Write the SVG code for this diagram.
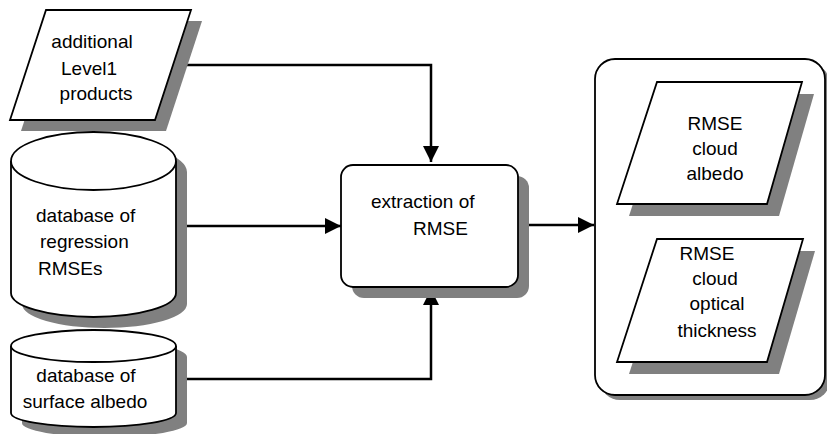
<svg xmlns="http://www.w3.org/2000/svg" width="827" height="434" viewBox="0 0 827 434">
<style>
.sh{fill:#808080;stroke:none}
.nd{fill:#fff;stroke:#000;stroke-width:1.8}
.ln{fill:none;stroke:#000;stroke-width:2.5}
text{font-family:"Liberation Sans",Arial,sans-serif;font-size:19px;fill:#000}
.m{text-anchor:middle}
</style>
<defs>
<marker id="ah" markerUnits="userSpaceOnUse" markerWidth="17" markerHeight="17" refX="16" refY="8" orient="auto">
<path d="M0,0 L16,8 L0,16 Z" fill="#000"/>
</marker>
</defs>
<rect width="827" height="434" fill="#fff"/>
<g id="connectors">
<path class="ln" d="M173,65 H431 V162" marker-end="url(#ah)"/>
<path class="ln" d="M176,226 H341" marker-end="url(#ah)"/>
<path class="ln" d="M176,379 H431 V289" marker-end="url(#ah)"/>
<path class="ln" d="M518,225 H594" marker-end="url(#ah)"/>
</g>
<g id="level1">
<polygon class="sh" points="57,21 202,21 166,131 21,131"/>
<polygon class="nd" points="46,10 191,10 155,120 10,120"/>
<text class="m" x="92" y="48">additional</text>
<text class="m" x="89" y="75">Level1</text>
<text class="m" x="96" y="100">products</text>
</g>
<g id="db-rmse">
<path class="sh" d="M22,172 V304 A82.5,24 0 0 0 187,304 V172 A82.5,29 0 0 0 22,172 Z"/>
<path class="nd" d="M11,161 V293 A82.5,24 0 0 0 176,293 V161 A82.5,29 0 0 0 11,161 Z"/>
<path class="nd" fill="none" d="M11,161 A82.5,29 0 0 0 176,161"/>
<text x="36" y="222">database of</text>
<text x="40" y="248">regression</text>
<text x="38" y="275">RMSEs</text>
</g>
<g id="db-albedo">
<path class="sh" d="M22,357 V423 A82.5,14 0 0 0 187,423 V357 A82.5,16 0 0 0 22,357 Z"/>
<path class="nd" d="M11,346 V413 A82.5,14 0 0 0 176,413 V346 A82.5,16 0 0 0 11,346 Z"/>
<path class="nd" fill="none" d="M11,346 A82.5,16 0 0 0 176,346"/>
<text class="m" x="86" y="382">database of</text>
<text class="m" x="85" y="408">surface albedo</text>
</g>
<g id="extraction">
<rect class="sh" x="352" y="176" width="177" height="122" rx="12"/>
<rect class="nd" x="341" y="165" width="177" height="122" rx="12"/>
<text x="371" y="208">extraction of</text>
<text x="413" y="235">RMSE</text>
</g>
<g id="outputs">
<rect class="sh" x="600" y="64" width="230" height="336" rx="20"/>
<rect class="nd" x="595" y="59" width="230" height="336" rx="20"/>
</g>
<g id="rmse-albedo">
<polygon class="sh" points="669,94 814,94 779,216 629,216"/>
<polygon class="nd" points="657,82 802,82 767,204 617,204"/>
<text class="m" x="715" y="130">RMSE</text>
<text class="m" x="715" y="155">cloud</text>
<text class="m" x="715" y="180">albedo</text>
</g>
<g id="rmse-cot">
<polygon class="sh" points="669,251 815,251 779,374 629,374"/>
<polygon class="nd" points="657,239 803,239 767,362 617,362"/>
<text class="m" x="707" y="260">RMSE</text>
<text class="m" x="715" y="285">cloud</text>
<text class="m" x="717" y="310">optical</text>
<text class="m" x="717" y="337">thickness</text>
</g>
</svg>
